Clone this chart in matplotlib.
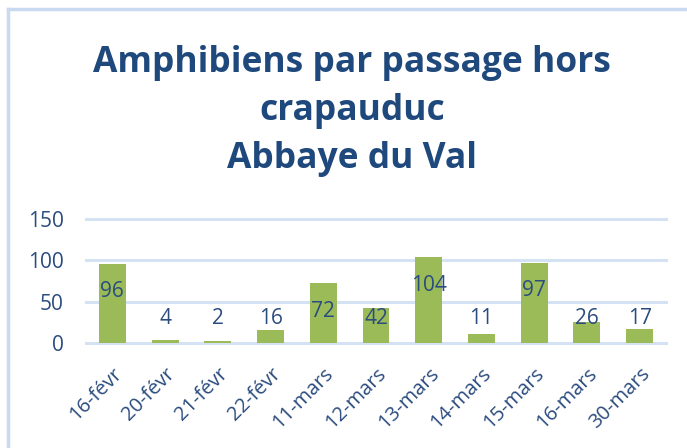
import matplotlib
matplotlib.use("Agg")
import matplotlib.pyplot as plt
from matplotlib.lines import Line2D

# Daten
DATES = ["16-févr", "20-févr", "21-févr", "22-févr", "11-mars", "12-mars",
         "13-mars", "14-mars", "15-mars", "16-mars", "30-mars"]
ANZAHL = [96, 4, 2, 16, 72, 42, 104, 11, 97, 26, 17]
Y_TICKS = [0, 50, 100, 150]

TITEL = "Amphibiens par passage hors\ncrapauduc\nAbbaye du Val"

BLAU = "#2B4C7E"
GRUEN = "#9BBB59"
GITTER = "#D5E2F4"

plt.rcParams["font.family"] = ["Open Sans", "DejaVu Sans"]

fig = plt.figure(figsize=(6.87, 4.48), dpi=100)
ax = fig.add_axes([86 / 687, 1 - 343 / 448, 580 / 687, 124 / 448])

x = range(len(DATES))
ax.bar(x, ANZAHL, width=0.51, color=GRUEN, zorder=3)

# Beschriftungen wie im Original (innen bei hohen, darueber bei kleinen Balken)
for i, v in enumerate(ANZAHL):
    y_lab = max(v - 34, 30)
    ax.text(i, y_lab, str(v), ha="center", va="center", fontsize=15,
            color=BLAU, zorder=4)

ax.set_xlim(-0.5, len(DATES) - 0.5)
ax.set_ylim(0, 150)
ax.set_yticks(Y_TICKS)
ax.set_yticklabels([str(t) for t in Y_TICKS], fontsize=15, color=BLAU)
ax.set_xticks(list(x))
ax.set_xticklabels(DATES, rotation=45, ha="right", rotation_mode="anchor",
                   fontsize=14.5, color=BLAU)
ax.tick_params(axis="both", length=0)
ax.tick_params(axis="y", pad=16)
ax.tick_params(axis="x", pad=15)

for t in Y_TICKS:
    ax.axhline(t, color=GITTER, linewidth=2.2, zorder=1, clip_on=False)
for s in ax.spines.values():
    s.set_visible(False)

fig.text(352 / 687, 1 - 111 / 448, TITEL, ha="center", va="center",
         fontsize=25.5, fontweight="bold", color="#1F497D", linespacing=1.44)

# Rahmen (oben und links sichtbar)
fig.add_artist(Line2D([8 / 687, 1], [1 - 9 / 448, 1 - 9 / 448],
                      transform=fig.transFigure, color="#C9DAF0", linewidth=2.5))
fig.add_artist(Line2D([8 / 687, 8 / 687], [0, 1 - 9 / 448],
                      transform=fig.transFigure, color="#C9DAF0", linewidth=2.5))

fig.savefig("out.png", dpi=100)
